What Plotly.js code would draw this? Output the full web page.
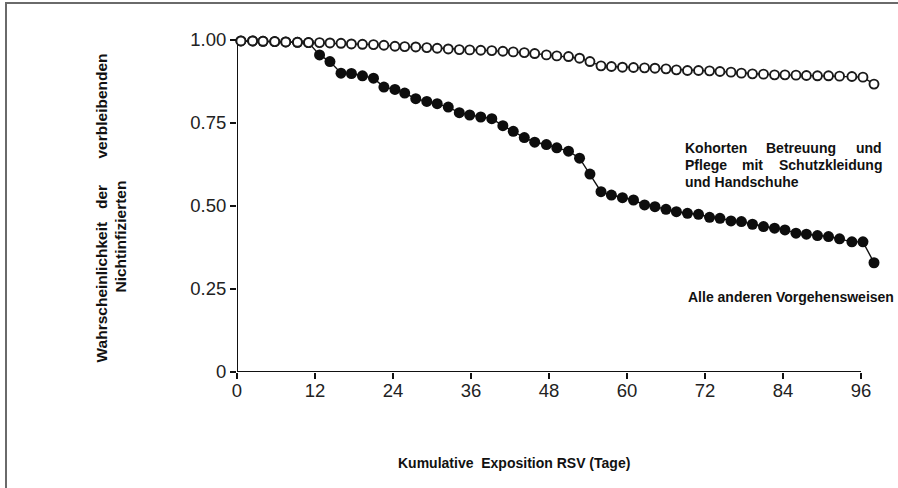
<!DOCTYPE html>
<html>
<head>
<meta charset="utf-8">
<script src="https://cdn.plot.ly/plotly-3.0.1.min.js"></script>
<style>
  html, body { margin: 0; padding: 0; background: #fff; }
  #wrap { position: relative; width: 898px; height: 488px; overflow: hidden; }
  #chart { position: absolute; left: 0; top: 0; width: 898px; height: 488px; }
  #frame { position: absolute; left: 5px; top: 2px; width: 1000px; height: 600px;
           border-left: 2px solid #6a6a6a; border-top: 2px solid #6a6a6a; pointer-events: none; }
</style>
</head>
<body>
<div id="wrap">
  <div id="chart"></div>
  <div id="frame"></div>
</div>
<script>
// Days (cumulative RSV exposure) at which the curves have points
const days = [0.6, 2.4, 4.0, 5.8, 7.5, 9.3, 11.0, 12.7, 14.3, 16.0,
  17.6, 19.3, 21.0, 22.6, 24.3, 25.8, 27.5, 29.2, 30.8, 32.5,
  34.2, 35.8, 37.5, 39.2, 40.9, 42.5, 44.2, 45.8, 47.6, 49.2,
  51.0, 52.7, 54.3, 56.0, 57.6, 59.3, 61.0, 62.7, 64.3, 66.0,
  67.6, 69.3, 71.0, 72.7, 74.3, 76.0, 77.6, 79.3, 81.0, 82.7,
  84.3, 86.0, 87.6, 89.3, 91.0, 92.7, 94.6, 96.3, 98.0];

// Kohorten Betreuung und Pflege mit Schutzkleidung und Handschuhe (open circles)
const cohortSurv = [0.997, 0.997, 0.996, 0.995, 0.994, 0.993, 0.992, 0.992, 0.991, 0.990,
  0.988, 0.987, 0.986, 0.984, 0.981, 0.980, 0.979, 0.977, 0.975, 0.973,
  0.971, 0.970, 0.969, 0.968, 0.966, 0.964, 0.962, 0.959, 0.955, 0.952,
  0.950, 0.945, 0.935, 0.922, 0.920, 0.918, 0.917, 0.916, 0.915, 0.913,
  0.910, 0.908, 0.908, 0.907, 0.905, 0.903, 0.900, 0.898, 0.897, 0.895,
  0.895, 0.894, 0.893, 0.892, 0.892, 0.891, 0.890, 0.888, 0.867];

// Alle anderen Vorgehensweisen (filled circles)
const otherSurv = [0.997, 0.997, 0.996, 0.995, 0.994, 0.993, 0.992, 0.955, 0.935, 0.900,
  0.899, 0.892, 0.885, 0.858, 0.851, 0.840, 0.823, 0.815, 0.808, 0.798,
  0.781, 0.774, 0.768, 0.763, 0.742, 0.725, 0.706, 0.692, 0.685, 0.675,
  0.665, 0.644, 0.596, 0.543, 0.533, 0.525, 0.518, 0.503, 0.498, 0.490,
  0.483, 0.478, 0.475, 0.466, 0.463, 0.455, 0.453, 0.445, 0.438, 0.433,
  0.428, 0.418, 0.415, 0.411, 0.408, 0.401, 0.392, 0.392, 0.329];

const xTickVals = [0, 12, 24, 36, 48, 60, 72, 84, 96];
const xTickText = ['0', '12', '24', '36', '48', '60', '72', '84', '96'];
const yTickVals = [0, 0.25, 0.5, 0.75, 1.0];
const yTickText = ['0', '0.25', '0.50', '0.75', '1.00'];

const FONT = 'Liberation Sans, Arial, Helvetica, sans-serif';
const INK = '#111111';

// plot area geometry in pixels (for placing text annotations in paper coords)
const W = 898, H = 488;
const M = { l: 237, r: 11, t: 30, b: 116 };
const PW = W - M.l - M.r, PH = H - M.t - M.b;
const px = v => (v - M.l) / PW;
const py = v => (H - M.b - v) / PH;

const traces = [
  {
    x: days, y: otherSurv, type: 'scatter', mode: 'lines+markers',
    line: { color: INK, width: 1.4 },
    marker: { symbol: 'circle', size: 11, color: '#0d0d0d', line: { width: 0 } },
    cliponaxis: false, hoverinfo: 'skip'
  },
  {
    x: days, y: cohortSurv, type: 'scatter', mode: 'lines+markers',
    line: { color: INK, width: 1.4 },
    marker: { symbol: 'circle', size: 9, color: '#ffffff', line: { width: 1.9, color: '#1a1a1a' } },
    cliponaxis: false, hoverinfo: 'skip'
  }
];

const bold = (t, extra) => Object.assign({
  showarrow: false, xref: 'paper', yref: 'paper',
  font: { family: FONT, size: 14, color: INK }
}, extra, { text: '<b>' + t + '</b>' });

const annotations = [
  // y-axis title (justified first line split into words)
  bold('Wahrscheinlichkeit', { x: px(101), y: py(365), xanchor: 'center', yanchor: 'bottom', textangle: -90, font: { family: FONT, size: 15.5, color: INK } }),
  bold('der', { x: px(101), y: py(197), xanchor: 'center', yanchor: 'middle', textangle: -90, font: { family: FONT, size: 15.5, color: INK } }),
  bold('verbleibenden', { x: px(101), y: py(52), xanchor: 'center', yanchor: 'top', textangle: -90, font: { family: FONT, size: 15.5, color: INK } }),
  bold('Nichtinfizierten', { x: px(120), y: py(236.5), xanchor: 'center', yanchor: 'middle', textangle: -90, font: { family: FONT, size: 15.5, color: INK } }),
  // x-axis title
  bold('Kumulative&nbsp; Exposition RSV (Tage)', { x: px(514), y: py(463), xanchor: 'center', yanchor: 'middle' }),
  // series labels
  bold('Kohorten', { x: px(683), y: py(148), xanchor: 'left', yanchor: 'middle' }),
  bold('Betreuung', { x: px(801), y: py(148), xanchor: 'center', yanchor: 'middle' }),
  bold('und', { x: px(884), y: py(148), xanchor: 'right', yanchor: 'middle' }),
  bold('Pflege', { x: px(683), y: py(165), xanchor: 'left', yanchor: 'middle' }),
  bold('mit', { x: px(752), y: py(165), xanchor: 'center', yanchor: 'middle' }),
  bold('Schutzkleidung', { x: px(884), y: py(165), xanchor: 'right', yanchor: 'middle' }),
  bold('und Handschuhe', { x: px(683), y: py(181.5), xanchor: 'left', yanchor: 'middle' }),
  bold('Alle anderen Vorgehensweisen', { x: px(686), y: py(297), xanchor: 'left', yanchor: 'middle' })
];

const layout = {
  width: W, height: H, margin: M,
  paper_bgcolor: '#ffffff', plot_bgcolor: '#ffffff',
  showlegend: false,
  xaxis: {
    range: [0, 100], tickvals: xTickVals, ticktext: xTickText,
    ticks: 'outside', ticklen: 6, tickwidth: 2, tickcolor: INK,
    ticklabelstandoff: -4,
    showgrid: false, zeroline: false, showline: false,
    tickfont: { family: FONT, size: 18.5, color: '#222222' }, fixedrange: true
  },
  yaxis: {
    range: [0, 1.03], tickvals: yTickVals, ticktext: yTickText,
    ticks: 'outside', ticklen: 6, tickwidth: 2, tickcolor: INK,
    showgrid: false, zeroline: false, showline: false,
    tickfont: { family: FONT, size: 18.5, color: '#222222' }, fixedrange: true
  },
  shapes: [
    { type: 'line', xref: 'x', yref: 'y', x0: 0, x1: 96, y0: 0, y1: 0, line: { color: INK, width: 2 }, layer: 'below' },
    { type: 'line', xref: 'x', yref: 'y', x0: 0, x1: 0, y0: 0, y1: 1.0, line: { color: INK, width: 2 }, layer: 'below' }
  ],
  annotations: annotations
};

Plotly.newPlot('chart', traces, layout, { displayModeBar: false, staticPlot: true });
</script>
</body>
</html>
